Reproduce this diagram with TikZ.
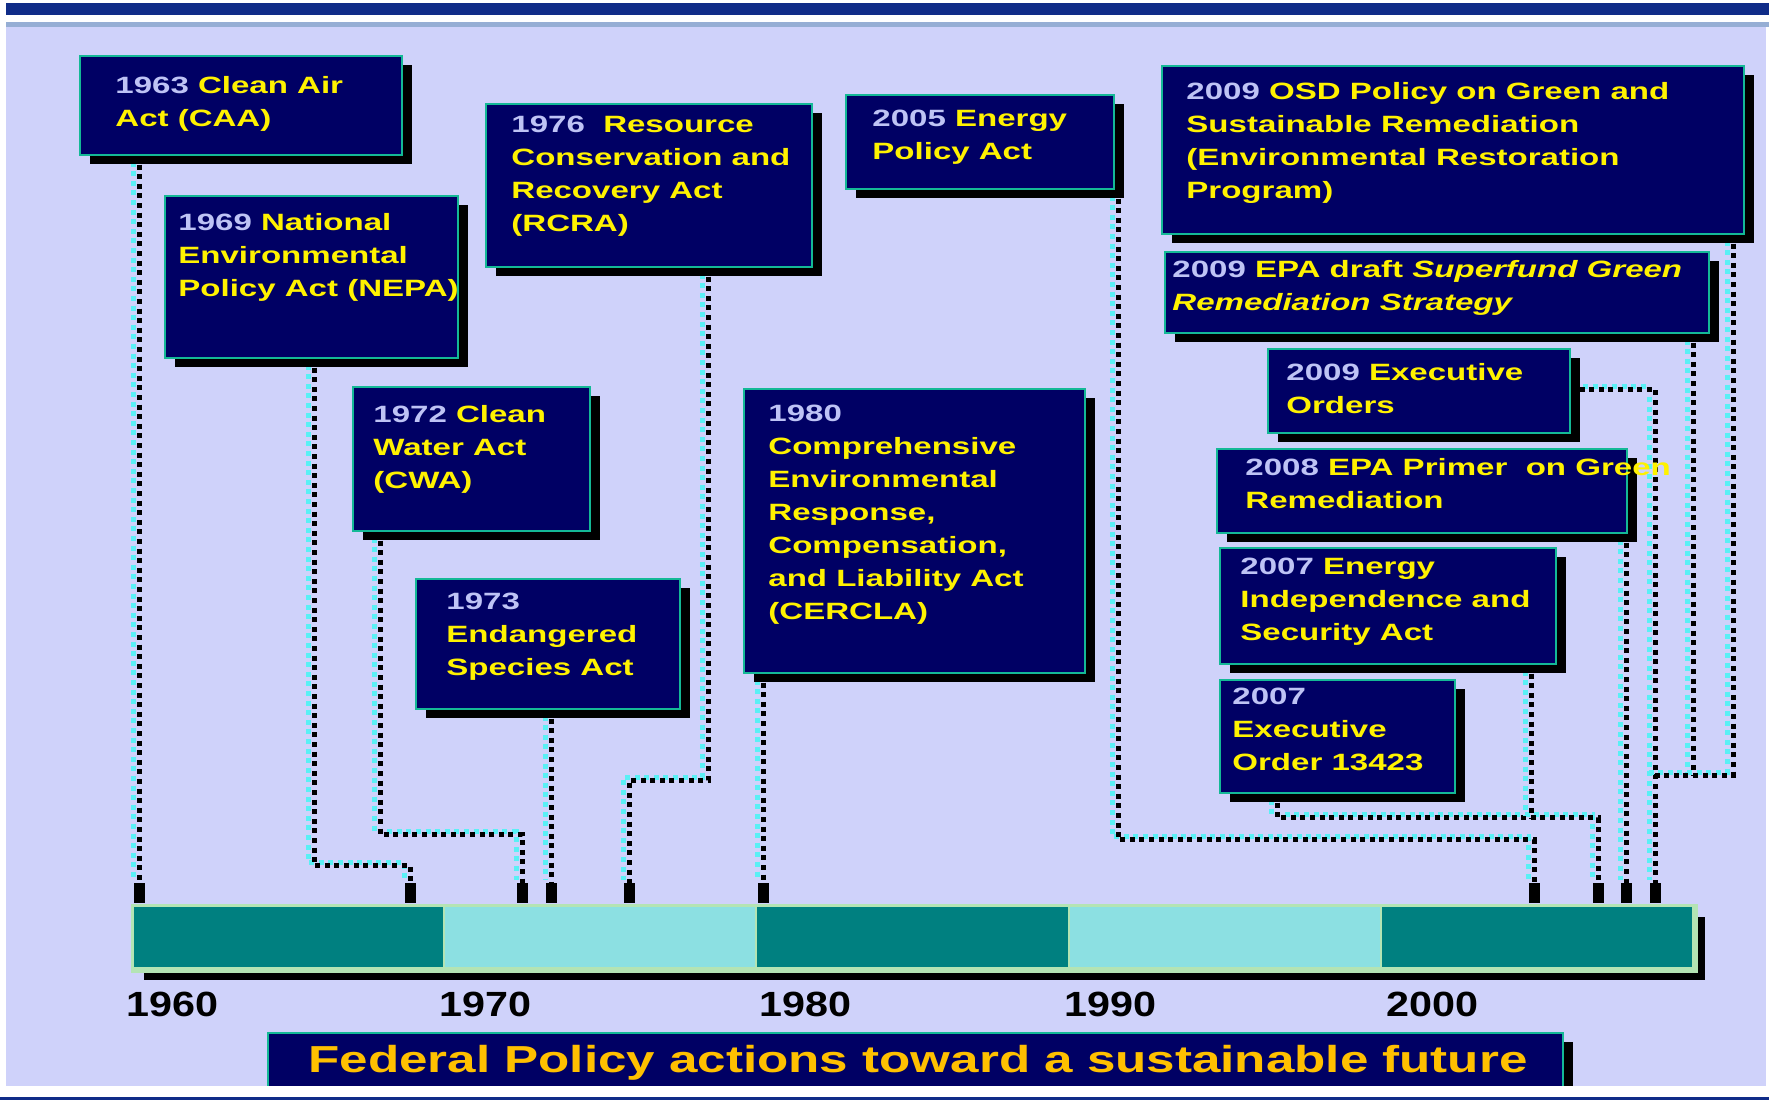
\documentclass[tikz,border=0pt]{standalone}
\usepackage{fontspec}
\newfontfamily\actfont[FakeStretch=1.4]{Liberation Sans}
\newfontfamily\yearfont[FakeStretch=1.18]{Liberation Sans}
\newfontfamily\headfont[FakeStretch=1.36]{Liberation Sans}
\usetikzlibrary{%
    positioning,
    shadows
%   calc, shapes
}
\definecolor{bandblue}{RGB}{16,44,136}
\definecolor{bandline}{RGB}{150,174,212}
\definecolor{lavender}{RGB}{207,210,250}
\definecolor{navy}{RGB}{0,0,100}
\definecolor{boxline}{RGB}{20,185,150}
\definecolor{yearcol}{RGB}{190,195,245}
\definecolor{gold}{RGB}{255,192,0}
\definecolor{tealdark}{RGB}{0,128,128}
\definecolor{teallight}{RGB}{140,224,226}
\definecolor{barline}{RGB}{180,228,180}
\definecolor{glow}{RGB}{90,240,245}

\pgfdeclarelayer{back}
\pgfdeclarelayer{links}
\pgfsetlayers{back,links,main}

\newcommand{\actyear}[1]{{\color{yearcol}#1}}

\tikzset{
    actbox/.style = {
        rectangle, draw=boxline, line width=1pt,
        fill=navy, anchor=north west,
        drop shadow={shadow xshift=5pt, shadow yshift=-4.5pt,
                     fill=black, opacity=1},
        inner sep=0pt, outer sep=0pt,
    },
    acttext/.style = {
        text=yellow, align=left, inner sep=0pt,
        font=\actfont\bfseries\fontsize{11.8}{16.5}\selectfont,
    },
    link/.style = {
        line width=2.5pt, dash pattern=on 2.5pt off 2.3pt,
        preaction={
            draw=glow, line width=2.5pt,
            dash pattern=on 2.5pt off 2.3pt,
            transform canvas={shift={(-3pt,1.5pt)}}
        },
        draw=black,
    },
    tick/.style = {
        rectangle, fill=black, inner sep=0pt,
        minimum width=5.5pt, minimum height=10pt,
    },
    seg/.style = {
        rectangle, draw=barline, line width=1pt,
        minimum width=156.1pt, minimum height=31.5pt,
        inner sep=0pt, outer sep=0pt,
    },
    yearlabel/.style = {
        anchor=north west, inner sep=0pt,
        font=\yearfont\bfseries\fontsize{17.5}{20}\selectfont,
    },
}

\begin{document}
\begin{tikzpicture}[x=0.5pt, y=-0.5pt]
    \useasboundingbox (0,0) rectangle (1769,1100);
    \begin{pgfonlayer}{back}
        \fill[bandblue] (6,3) rectangle (1769,15);
        \fill[bandline] (6,22) rectangle (1769,27);
        \fill[lavender] (6,27) rectangle (1766,1086);
    \end{pgfonlayer}

    % the acts
    \node[
        actbox,
        minimum width = 161pt,
        minimum height = 49.5pt
    ] (caa) at (80, 56) {};
    \node[
        acttext,
        below right = 10pt and 17.5pt of caa.north west
    ] (caa-text) {\actyear{1963} Clean Air\\Act (CAA)};

    \node[
        actbox,
        minimum width = 146.5pt,
        minimum height = 81pt
    ] (nepa) at (165, 196) {};
    \node[
        acttext,
        below right = 8.5pt and 6.5pt of nepa.north west
    ] (nepa-text) {\actyear{1969} National\\Environmental\\Policy Act (NEPA)};

    \node[
        actbox,
        minimum width = 163pt,
        minimum height = 81.5pt
    ] (rcra) at (486, 104) {};
    \node[
        acttext,
        below right = 6pt and 12.5pt of rcra.north west
    ] (rcra-text) {\actyear{1976}\ \ Resource\\Conservation and\\Recovery Act\\(RCRA)};

    \node[
        actbox,
        minimum width = 134pt,
        minimum height = 47pt
    ] (energy) at (846, 95) {};
    \node[
        acttext,
        below right = 7.5pt and 13pt of energy.north west
    ] (energy-text) {\actyear{2005} Energy\\Policy Act};

    \node[
        actbox,
        minimum width = 291pt,
        minimum height = 84pt
    ] (osd) at (1162, 66) {};
    \node[
        acttext,
        below right = 8pt and 12pt of osd.north west
    ] (osd-text) {\actyear{2009} OSD Policy on Green and\\Sustainable Remediation\\(Environmental Restoration\\Program)};

    \node[
        actbox,
        minimum width = 272pt,
        minimum height = 40.5pt
    ] (epa) at (1165, 252) {};
    \node[
        acttext,
        below right = 4pt and 3.5pt of epa.north west
    ] (epa-text) {\actyear{2009} EPA draft \textit{Superfund Green}\\\textit{Remediation Strategy}};

    \node[
        actbox,
        minimum width = 151pt,
        minimum height = 42pt
    ] (eo09) at (1268, 349) {};
    \node[
        acttext,
        below right = 7pt and 9pt of eo09.north west
    ] (eo09-text) {\actyear{2009} Executive\\Orders};

    \node[
        actbox,
        minimum width = 205pt,
        minimum height = 42pt
    ] (primer) at (1217, 449) {};
    \node[
        acttext,
        below right = 4.5pt and 14pt of primer.north west
    ] (primer-text) {\actyear{2008} EPA Primer\ \ on Green\\Remediation};

    \node[
        actbox,
        minimum width = 168pt,
        minimum height = 58pt
    ] (eisa) at (1220, 548) {};
    \node[
        acttext,
        below right = 5pt and 10pt of eisa.north west
    ] (eisa-text) {\actyear{2007} Energy\\Independence and\\Security Act};

    \node[
        actbox,
        minimum width = 117.5pt,
        minimum height = 56.5pt
    ] (eo07) at (1220, 680) {};
    \node[
        acttext,
        below right = 4pt and 6pt of eo07.north west
    ] (eo07-text) {\actyear{2007}\\Executive\\Order 13423};

    \node[
        actbox,
        minimum width = 118.5pt,
        minimum height = 72pt
    ] (cwa) at (353, 387) {};
    \node[
        acttext,
        below right = 9pt and 10pt of cwa.north west
    ] (cwa-text) {\actyear{1972} Clean\\Water Act\\(CWA)};

    \node[
        actbox,
        minimum width = 132pt,
        minimum height = 65pt
    ] (esa) at (416, 579) {};
    \node[
        acttext,
        below right = 7pt and 15pt of esa.north west
    ] (esa-text) {\actyear{1973}\\Endangered\\Species Act};

    \node[
        actbox,
        minimum width = 170.5pt,
        minimum height = 142pt
    ] (cercla) at (744, 389) {};
    \node[
        acttext,
        below right = 8pt and 12pt of cercla.north west
    ] (cercla-text) {\actyear{1980}\\Comprehensive\\Environmental\\Response,\\Compensation,\\and Liability Act\\(CERCLA)};

    % time line
    \node[
        rectangle,
        draw=barline,
        line width=1.5pt,
        anchor=north west,
        minimum width = 780.5pt,
        minimum height = 31.5pt,
        drop shadow={shadow xshift=5pt, shadow yshift=-5pt, fill=black, opacity=1}
    ] (bar) at (132, 905) {};
    \node[seg, fill=tealdark, anchor=north west] (s60) at (bar.north west) {};
    \node[seg, fill=teallight, right=0pt of s60] (s70) {};
    \node[seg, fill=tealdark, right=0pt of s70] (s80) {};
    \node[seg, fill=teallight, right=0pt of s80] (s90) {};
    \node[seg, fill=tealdark, right=0pt of s90] (s00) {};
    \draw[barline, line width=1.5pt] (bar.north west) rectangle (bar.south east);

    \node[yearlabel] (y60) at (126, 992) {1960};
    \node[yearlabel] (y70) at (439, 992) {1970};
    \node[yearlabel] (y80) at (759, 992) {1980};
    \node[yearlabel] (y90) at (1064, 992) {1990};
    \node[yearlabel] (y00) at (1386, 992) {2000};

    \node[tick] (t1) at (139, 893) {};
    \node[tick] (t2) at (410, 893) {};
    \node[tick] (t3) at (522, 893) {};
    \node[tick] (t4) at (551, 893) {};
    \node[tick] (t5) at (629, 893) {};
    \node[tick] (t6) at (763, 893) {};
    \node[tick] (t7) at (1534, 893) {};
    \node[tick] (t8) at (1598, 893) {};
    \node[tick] (t9) at (1626, 893) {};
    \node[tick] (t10) at (1655, 893) {};

    \coordinate (j1) at (1531, 818);
    \coordinate (j2) at (1655, 775);
    \coordinate (j3) at (1693, 775);

    \begin{pgfonlayer}{links}
        \draw[link] ([xshift=29.5pt]caa.south west) -- (t1.north);
        \draw[link] ([xshift=74.5pt]nepa.south west) |- ([yshift=8.5pt]t2.north) -- (t2.north);
        \draw[link] ([xshift=13.5pt]cwa.south west) |- ([yshift=24pt]t3.north) -- (t3.north);
        \draw[link] ([xshift=67.5pt]esa.south west) -- (t4.north);
        \draw[link] ([xshift=111pt]rcra.south west) |- ([yshift=51pt]t5.north) -- (t5.north);
        \draw[link] ([xshift=9.5pt]cercla.south west) -- (t6.north);
        \draw[link] ([xshift=2pt]energy.south east) |- ([yshift=21.5pt]t7.north) -- (t7.north);
        \draw[link] ([xshift=28.5pt]eo07.south west) |- ([yshift=32.5pt]t8.north) -- (t8.north);
        \draw[link] ([xshift=155.5pt]eisa.south west) -- (j1);
        \draw[link] ([xshift=-0.5pt]primer.south east) -- (t9.north);
        \draw[link] ([yshift=-20pt]eo09.north east) -| (t10.north);
        \draw[link] ([xshift=-8pt]epa.south east) -- (j3);
        \draw[link] ([xshift=-5.5pt]osd.south east) |- (j2);
    \end{pgfonlayer}

    % caption
    \node[
        actbox,
        minimum width = 647.5pt,
        minimum height = 27pt
    ] (headbox) at (268, 1033) {};
    \node[
        text=gold,
        inner sep=0pt,
        font=\headfont\bfseries\fontsize{18.8}{22}\selectfont,
        anchor=base
    ] (head) at (918, 1072) {Federal Policy actions toward a sustainable future};
    \fill[white] (0,1086) rectangle (1769,1097);
    \fill[bandblue] (0,1097) rectangle (1769,1100);
\end{tikzpicture}
\end{document}
